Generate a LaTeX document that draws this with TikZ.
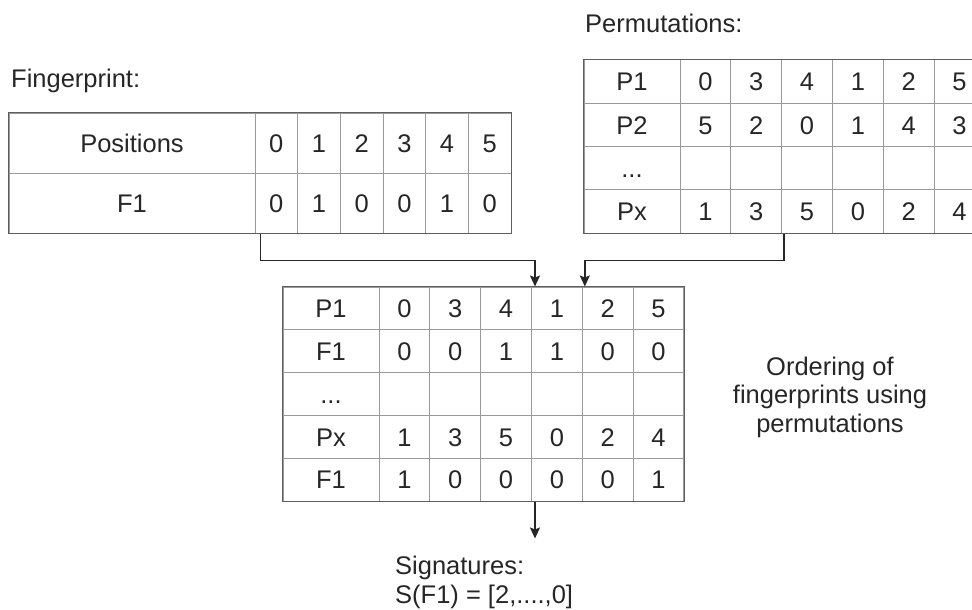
\documentclass[tikz,border=0pt]{standalone}
\usepackage{fontspec}
\setmainfont{Liberation Sans}
\usetikzlibrary{arrows.meta}

\definecolor{cellgray}{HTML}{9A9A9A}
\definecolor{framegray}{HTML}{5E5E5E}

% row label for the skipped rows (plain dots would confuse \foreach)
\newcommand{\rowdots}{...}

\tikzset{
  cell/.style={draw=cellgray, line width=1pt, inner sep=0pt, text height=18.5pt, text depth=0pt},
  frame/.style={draw=framegray, line width=1.5pt},
  label/.style={inner sep=0pt},
  flow/.style={draw=black!85, line width=1.6pt, -{Stealth[length=11pt, width=10pt, inset=2pt]}},
}

\begin{document}
\begin{tikzpicture}[x=1pt, y=-1pt, font=\fontsize{25.5}{28.5}\selectfont, text=black!85]

\clip (0,0) rectangle (972,610);

%\draw[step=10, gray!20] (0,0) grid (972,610);

% fingerprint: header cell + six bits per row
\foreach \lbl/\vals [count=\r] in {Positions/{0,1,2,3,4,5}, F1/{0,1,0,0,1,0}} {
    \node[cell, minimum width=246pt, minimum height=60pt] (fp-\r-0) at (132, {113+60*(\r-0.5)}) {\lbl};
    \foreach \v [count=\c] in \vals
        \node[cell, minimum width=42.67pt, minimum height=60pt] (fp-\r-\c)
            at ({255+42.67*(\c-0.5)}, {113+60*(\r-0.5)}) {\v};
}
\draw[frame] (fp-1-0.north west) rectangle (fp-2-6.south east);

% permutations
\foreach \lbl/\vals [count=\r] in {P1/{0,3,4,1,2,5}, P2/{5,2,0,1,4,3}, \rowdots/{{},{},{},{},{},{}}, Px/{1,3,5,0,2,4}} {
    \node[cell, minimum width=96pt, minimum height=43.25pt] (perm-\r-0) at (632, {60+43.25*(\r-0.5)}) {\lbl};
    \foreach \v [count=\c] in \vals
        \node[cell, minimum width=50.83pt, minimum height=43.25pt] (perm-\r-\c)
            at ({680+50.83*(\c-0.5)}, {60+43.25*(\r-0.5)}) {\v};
}
\draw[frame] (perm-1-0.north west) rectangle (perm-4-6.south east);

% fingerprint bits reordered by each permutation
\foreach \lbl/\vals [count=\r] in {P1/{0,3,4,1,2,5}, F1/{0,0,1,1,0,0}, \rowdots/{{},{},{},{},{},{}}, Px/{1,3,5,0,2,4}, F1/{1,0,0,0,0,1}} {
    \node[cell, minimum width=96pt, minimum height=42.8pt] (ord-\r-0) at (331, {287+42.8*(\r-0.5)}) {\lbl};
    \foreach \v [count=\c] in \vals
        \node[cell, minimum width=50.83pt, minimum height=42.8pt] (ord-\r-\c)
            at ({379+50.83*(\c-0.5)}, {287+42.8*(\r-0.5)}) {\v};
}
\draw[frame] (ord-1-0.north west) rectangle (ord-5-6.south east);

% captions
\node[label, anchor=base west] (fplabel) at (11, 88) {Fingerprint:};
\node[label, anchor=base west] (permlabel) at (585, 33) {Permutations:};
\node[label, align=center] (ordlabel) at (830, 397) {Ordering of\\fingerprints using\\permutations};
\node[label, anchor=north west, align=left] (sig) at (395, 556) {Signatures:\\S(F1) = [2,....,0]};

% arrows
\draw[flow] ([xshift=6pt]fp-2-1.south west) -- ++(0,27) -| ([xshift=3pt]ord-1-3.north east);
\draw[flow] ([xshift=2pt]perm-4-2.south east) -- ++(0,27) -| ([xshift=2pt]ord-1-4.north east);
\coordinate (sigin) at ([xshift=3pt, yshift=-37pt]ord-5-3.south east);
\draw[flow] ([xshift=3pt]ord-5-3.south east) -- (sigin);

\end{tikzpicture}
\end{document}
